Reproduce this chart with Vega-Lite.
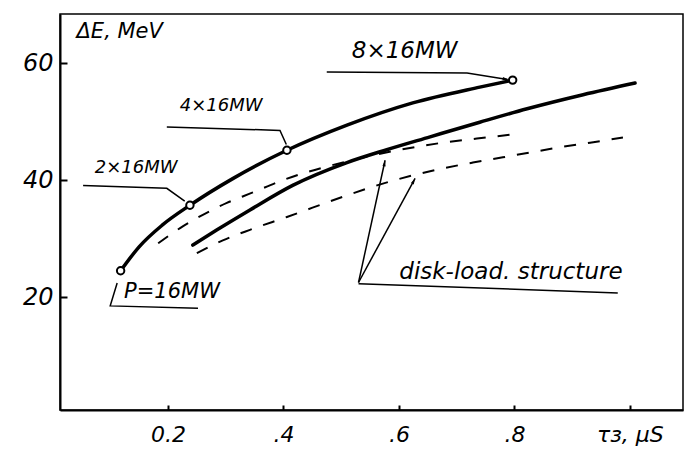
{
  "$schema": "https://vega.github.io/schema/vega-lite/v6.json",
  "width": 623,
  "height": 396,
  "autosize": "none",
  "padding": {"left": 60, "top": 14, "right": 6, "bottom": 48},
  "background": "white",
  "config": {
    "view": {"stroke": "black", "strokeWidth": 1.5},
    "font": "DejaVu Sans"
  },
  "datasets": {
    "curves": [
      {"s": "A", "x": 0.118, "y": 24.5},
      {"s": "A", "x": 0.150, "y": 28.6},
      {"s": "A", "x": 0.190, "y": 32.3},
      {"s": "A", "x": 0.238, "y": 35.7},
      {"s": "A", "x": 0.313, "y": 40.3},
      {"s": "A", "x": 0.406, "y": 45.1},
      {"s": "A", "x": 0.510, "y": 49.4},
      {"s": "A", "x": 0.624, "y": 53.2},
      {"s": "A", "x": 0.740, "y": 55.9},
      {"s": "A", "x": 0.797, "y": 57.1},
      {"s": "B", "x": 0.243, "y": 28.9},
      {"s": "B", "x": 0.285, "y": 31.5},
      {"s": "B", "x": 0.342, "y": 34.9},
      {"s": "B", "x": 0.416, "y": 39.1},
      {"s": "B", "x": 0.510, "y": 43.0},
      {"s": "B", "x": 0.579, "y": 45.2},
      {"s": "B", "x": 0.654, "y": 47.4},
      {"s": "B", "x": 0.740, "y": 49.9},
      {"s": "B", "x": 0.822, "y": 52.2},
      {"s": "B", "x": 0.919, "y": 54.6},
      {"s": "B", "x": 1.009, "y": 56.6},
      {"s": "C", "x": 0.183, "y": 29.2},
      {"s": "C", "x": 0.221, "y": 31.8},
      {"s": "C", "x": 0.250, "y": 33.5},
      {"s": "C", "x": 0.302, "y": 36.1},
      {"s": "C", "x": 0.347, "y": 37.9},
      {"s": "C", "x": 0.399, "y": 40.0},
      {"s": "C", "x": 0.510, "y": 43.2},
      {"s": "C", "x": 0.619, "y": 45.5},
      {"s": "C", "x": 0.676, "y": 46.4},
      {"s": "C", "x": 0.735, "y": 47.1},
      {"s": "C", "x": 0.804, "y": 47.9},
      {"s": "D", "x": 0.250, "y": 27.5},
      {"s": "D", "x": 0.295, "y": 29.7},
      {"s": "D", "x": 0.342, "y": 31.5},
      {"s": "D", "x": 0.406, "y": 33.7},
      {"s": "D", "x": 0.510, "y": 37.4},
      {"s": "D", "x": 0.562, "y": 39.1},
      {"s": "D", "x": 0.671, "y": 41.9},
      {"s": "D", "x": 0.728, "y": 43.0},
      {"s": "D", "x": 0.780, "y": 43.9},
      {"s": "D", "x": 0.832, "y": 44.8},
      {"s": "D", "x": 0.884, "y": 45.7},
      {"s": "D", "x": 0.931, "y": 46.4},
      {"s": "D", "x": 0.988, "y": 47.3}
    ],
    "points": [
      {"x": 0.118, "y": 24.5},
      {"x": 0.238, "y": 35.7},
      {"x": 0.406, "y": 45.1},
      {"x": 0.797, "y": 57.1}
    ],
    "leaders": [
      {"s": "L1", "o": 1, "x": 0.112, "y": 22.4},
      {"s": "L1", "o": 2, "x": 0.100, "y": 18.5},
      {"s": "L1", "o": 3, "x": 0.252, "y": 18.1},
      {"s": "L2", "o": 1, "x": 0.053, "y": 39.1},
      {"s": "L2", "o": 2, "x": 0.198, "y": 38.6},
      {"s": "L2", "o": 3, "x": 0.229, "y": 36.4},
      {"s": "L4", "o": 1, "x": 0.198, "y": 49.1},
      {"s": "L4", "o": 2, "x": 0.394, "y": 48.5},
      {"s": "L4", "o": 3, "x": 0.405, "y": 46.1},
      {"s": "L8", "o": 1, "x": 0.475, "y": 58.5},
      {"s": "L8", "o": 2, "x": 0.718, "y": 58.3},
      {"s": "L8", "o": 3, "x": 0.788, "y": 57.2},
      {"s": "LD", "o": 1, "x": 0.979, "y": 20.7},
      {"s": "LD", "o": 2, "x": 0.530, "y": 22.3},
      {"s": "A1", "o": 1, "x": 0.530, "y": 22.5},
      {"s": "A1", "o": 2, "x": 0.576, "y": 43.4},
      {"s": "A2", "o": 1, "x": 0.530, "y": 22.5},
      {"s": "A2", "o": 2, "x": 0.628, "y": 40.3}
    ],
    "heads": [
      {"h": "A1", "x": 0.576, "y": 43.4},
      {"h": "A2", "x": 0.628, "y": 40.3},
      {"h": "L8", "x": 0.790, "y": 57.2}
    ],
    "labels": [
      {"g": "big", "label": "8×16MW", "x": 0.610, "y": 62.1},
      {"g": "big", "label": "disk-load. structure", "x": 0.794, "y": 24.3},
      {"g": "mid", "label": "P=16MW", "x": 0.207, "y": 20.9},
      {"g": "small", "label": "2×16MW", "x": 0.145, "y": 42.1},
      {"g": "small", "label": "4×16MW", "x": 0.292, "y": 52.6}
    ]
  },
  "layer": [
    {
      "data": {"name": "curves"},
      "transform": [{"filter": "datum.s === 'A' || datum.s === 'B'"}],
      "mark": {"type": "line", "color": "black", "strokeWidth": 3.5, "interpolate": "monotone", "strokeCap": "round"},
      "encoding": {
        "x": {"field": "x", "type": "quantitative", "scale": {"domain": [0.013, 1.092], "nice": false, "zero": false},
          "axis": {"values": [0.2, 0.4, 0.6, 0.8, 1.0], "title": null, "grid": false,
            "labelExpr": "datum.value < 0.3 ? '0.2' : datum.value < 0.5 ? '.4' : datum.value < 0.7 ? '.6' : datum.value < 0.9 ? '.8' : 'τз, μS'",
            "labelFont": "DejaVu Sans", "labelFontStyle": "italic", "labelFontSize": 22, "labelColor": "black",
            "labelBaseline": "middle", "labelPadding": 29, "labelFlush": false,
            "tickSize": -5, "tickWidth": 2, "tickColor": "black",
            "domainColor": "black", "domainWidth": 2}},
        "y": {"field": "y", "type": "quantitative", "scale": {"domain": [0.7, 68.4], "nice": false, "zero": false},
          "axis": {"values": [20, 40, 60], "grid": false,
            "title": "ΔE, MeV", "titleAngle": 0, "titleAlign": "left", "titleBaseline": "middle",
            "titleX": 16, "titleY": 17, "titleFont": "DejaVu Sans", "titleFontStyle": "italic", "titleFontSize": 21, "titleFontWeight": "normal", "titleColor": "black",
            "labelFont": "DejaVu Sans", "labelFontStyle": "italic", "labelFontSize": 24, "labelColor": "black",
            "labelPadding": 14, "tickSize": -7, "tickWidth": 2, "tickColor": "black",
            "domainColor": "black", "domainWidth": 2}},
        "detail": {"field": "s"}
      }
    },
    {
      "data": {"name": "curves"},
      "transform": [{"filter": "datum.s === 'C' || datum.s === 'D'"}],
      "mark": {"type": "line", "color": "black", "strokeWidth": 2, "strokeDash": [12, 12], "interpolate": "monotone"},
      "encoding": {
        "x": {"field": "x", "type": "quantitative"},
        "y": {"field": "y", "type": "quantitative"},
        "detail": {"field": "s"}
      }
    },
    {
      "data": {"name": "leaders"},
      "mark": {"type": "line", "color": "black", "strokeWidth": 1.5},
      "encoding": {
        "x": {"field": "x", "type": "quantitative"},
        "y": {"field": "y", "type": "quantitative"},
        "detail": {"field": "s"},
        "order": {"field": "o"}
      }
    },
    {
      "data": {"name": "points"},
      "mark": {"type": "point", "shape": "circle", "filled": true, "fill": "white", "stroke": "black", "strokeWidth": 2, "size": 55, "opacity": 1},
      "encoding": {
        "x": {"field": "x", "type": "quantitative"},
        "y": {"field": "y", "type": "quantitative"}
      }
    },
    {
      "data": {"name": "heads"},
      "transform": [{"filter": "datum.h === 'A1'"}],
      "mark": {"type": "point", "shape": "M0,0L-0.45,1.7L0.45,1.7Z", "filled": true, "color": "black", "size": 50, "angle": 10, "opacity": 1},
      "encoding": {
        "x": {"field": "x", "type": "quantitative"},
        "y": {"field": "y", "type": "quantitative"}
      }
    },
    {
      "data": {"name": "heads"},
      "transform": [{"filter": "datum.h === 'A2'"}],
      "mark": {"type": "point", "shape": "M0,0L-0.45,1.7L0.45,1.7Z", "filled": true, "color": "black", "size": 50, "angle": 27, "opacity": 1},
      "encoding": {
        "x": {"field": "x", "type": "quantitative"},
        "y": {"field": "y", "type": "quantitative"}
      }
    },
    {
      "data": {"name": "heads"},
      "transform": [{"filter": "datum.h === 'L8'"}],
      "mark": {"type": "point", "shape": "M0,0L-0.45,1.7L0.45,1.7Z", "filled": true, "color": "black", "size": 50, "angle": 99, "opacity": 1},
      "encoding": {
        "x": {"field": "x", "type": "quantitative"},
        "y": {"field": "y", "type": "quantitative"}
      }
    },
    {
      "data": {"name": "labels"},
      "transform": [{"filter": "datum.g === 'big'"}],
      "mark": {"type": "text", "font": "DejaVu Sans", "fontStyle": "italic", "fontSize": 23, "color": "black", "align": "center", "baseline": "middle"},
      "encoding": {
        "x": {"field": "x", "type": "quantitative"},
        "y": {"field": "y", "type": "quantitative"},
        "text": {"field": "label"}
      }
    },
    {
      "data": {"name": "labels"},
      "transform": [{"filter": "datum.g === 'mid'"}],
      "mark": {"type": "text", "font": "DejaVu Sans", "fontStyle": "italic", "fontSize": 21, "color": "black", "align": "center", "baseline": "middle"},
      "encoding": {
        "x": {"field": "x", "type": "quantitative"},
        "y": {"field": "y", "type": "quantitative"},
        "text": {"field": "label"}
      }
    },
    {
      "data": {"name": "labels"},
      "transform": [{"filter": "datum.g === 'small'"}],
      "mark": {"type": "text", "font": "DejaVu Sans", "fontStyle": "italic", "fontSize": 18, "color": "black", "align": "center", "baseline": "middle"},
      "encoding": {
        "x": {"field": "x", "type": "quantitative"},
        "y": {"field": "y", "type": "quantitative"},
        "text": {"field": "label"}
      }
    }
  ]
}
